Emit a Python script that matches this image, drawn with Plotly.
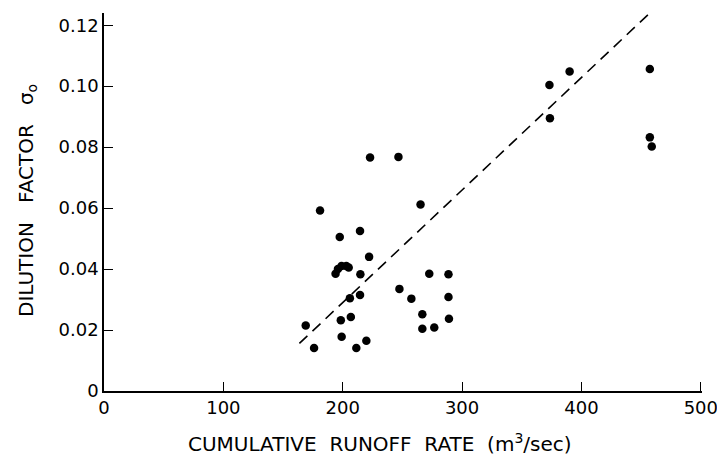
import plotly.graph_objects as go

# Cumulative runoff rate (m^3/sec) and dilution factor for each observation
runoff = [169, 176, 181, 197.5, 194, 196, 199, 203, 205, 198.4, 199.1, 206.8, 206.0,
          211.4, 214.5, 214.8, 214.5, 219.8, 222.1, 222.9, 246.7, 247.5, 257.5, 265.2,
          266.7, 266.7, 272.5, 276.7, 288.6, 288.6, 289.0, 373.2, 373.6, 390.1, 457.3,
          457.3, 458.9]
dilution = [0.0215, 0.0141, 0.0592, 0.0505, 0.0385, 0.0400, 0.0410, 0.0410, 0.0405,
            0.0232, 0.0178, 0.0243, 0.0304, 0.0141, 0.0525, 0.0383, 0.0315, 0.0165,
            0.0440, 0.0766, 0.0768, 0.0335, 0.0303, 0.0612, 0.0252, 0.0204, 0.0385,
            0.0208, 0.0383, 0.0308, 0.0237, 0.1004, 0.0895, 0.1048, 0.1056, 0.0832,
            0.0802]

# Fitted trend line end points
fit_x = [163.7, 456.2]
fit_y = [0.0156, 0.1236]

x_ticks = [0, 100, 200, 300, 400, 500]
y_ticks = [0, 0.02, 0.04, 0.06, 0.08, 0.10, 0.12]
y_tick_text = ["0", "0.02", "0.04", "0.06", "0.08", "0.10", "0.12"]

x_title = "CUMULATIVE  RUNOFF  RATE  (m<sup>3</sup>/sec)"
y_title = "DILUTION   FACTOR   σ<sub>o</sub>"

font_family = "DejaVu Sans, sans-serif"

fig = go.Figure()
fig.add_trace(go.Scatter(
    x=fit_x, y=fit_y, mode="lines",
    line=dict(color="black", width=1.6, dash="11px,7px"),
    showlegend=False, hoverinfo="skip",
))
fig.add_trace(go.Scatter(
    x=runoff, y=dilution, mode="markers",
    marker=dict(color="black", size=8.5, line=dict(width=0)),
    showlegend=False,
))

axis_common = dict(
    ticks="inside", ticklen=9, tickwidth=1.3, tickcolor="black",
    showline=True, linecolor="black", linewidth=1.5, showgrid=False,
    zeroline=False, automargin=False, ticklabeloverflow="allow",
    tickfont=dict(size=18, family=font_family, color="black"),
)

fig.update_layout(
    width=717, height=456,
    margin=dict(l=104, r=15, t=13, b=65),
    paper_bgcolor="white", plot_bgcolor="white",
    font=dict(family=font_family, color="black", size=18),
    xaxis=dict(range=[0, 501], tickvals=x_ticks, **axis_common),
    yaxis=dict(range=[0, 0.124], tickvals=y_ticks, ticktext=y_tick_text,
               **axis_common),
    annotations=[
        dict(text=x_title, xref="paper", yref="paper", x=0.462, y=-0.1376,
             xanchor="center", yanchor="middle", showarrow=False,
             font=dict(size=20, family=font_family, color="black")),
        dict(text=y_title, xref="paper", yref="paper", x=-0.129, y=0.505,
             xanchor="center", yanchor="middle", showarrow=False, textangle=-90,
             font=dict(size=20, family=font_family, color="black")),
    ],
)

fig.write_html("out.html")
